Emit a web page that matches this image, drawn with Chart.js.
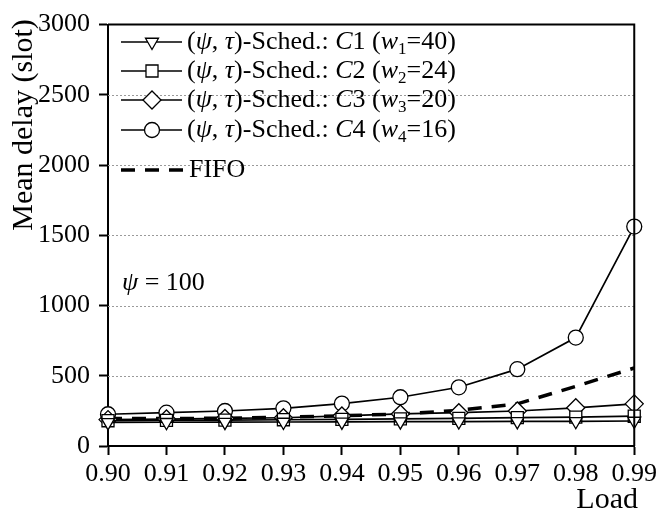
<!DOCTYPE html>
<html>
<head>
<meta charset="utf-8">
<script src="https://cdn.jsdelivr.net/npm/chart.js@4.4.1/dist/chart.umd.min.js"></script>
<style>
  html, body { margin: 0; padding: 0; background: #fff; }
</style>
</head>
<body>
<canvas id="chart" width="661" height="513"></canvas>
<script>
const loads = ["0.90", "0.91", "0.92", "0.93", "0.94", "0.95", "0.96", "0.97", "0.98", "0.99"];
const classNames = ["C1", "C2", "C3", "C4"];
const weights = [40, 24, 20, 16];
const delayC1 = [168, 169, 170, 171, 172, 173, 174, 175, 176, 178];
const delayC2 = [180, 182, 184, 187, 190, 193, 197, 202, 206, 212];
const delayC3 = [188, 192, 196, 201, 214, 228, 237, 249, 272, 300];
const delayC4 = [226, 237, 249, 268, 302, 347, 418, 547, 772, 1562];
const delayFifo = [195, 195, 198, 205, 215, 228, 254, 300, 425, 555];
const psiValue = 100;

const serif = "'Liberation Serif', 'Times New Roman', serif";
const markers = [
  { style: "triangle", rotation: 180, radius: 7.5 },
  { style: "rect", rotation: 0, radius: 8.5 },
  { style: "rectRot", rotation: 0, radius: 9 },
  { style: "circle", rotation: 0, radius: 7.5 },
];
const classData = [delayC1, delayC2, delayC3, delayC4];

const datasets = classData.map((d, i) => ({
  label: classNames[i],
  data: d,
  borderColor: "#000",
  borderWidth: 1.7,
  pointStyle: markers[i].style,
  pointRotation: markers[i].rotation,
  pointRadius: markers[i].radius,
  pointHoverRadius: markers[i].radius,
  pointBackgroundColor: "#fff",
  pointBorderColor: "#000",
  pointBorderWidth: 1.3,
  tension: 0,
}));
datasets.push({
  label: "FIFO",
  data: delayFifo,
  borderColor: "#000",
  borderWidth: 3.5,
  borderDash: [14, 10],
  pointRadius: 0,
  tension: 0,
});

// text with italic / subscript pieces
function drawRich(ctx, x, y, parts, size) {
  ctx.textBaseline = "middle";
  ctx.textAlign = "left";
  for (const p of parts) {
    const fs = p.sub ? Math.round(size * 0.65) : size;
    ctx.font = (p.it ? "italic " : "") + fs + "px " + serif;
    ctx.fillText(p.t, x, p.sub ? y + size * 0.3 : y);
    x += ctx.measureText(p.t).width;
  }
}

function legendParts(i) {
  const n = classNames[i];
  return [
    { t: "(" }, { t: "\u03c8", it: 1 }, { t: ", " }, { t: "\u03c4", it: 1 },
    { t: ")-Sched.: " }, { t: n.slice(0, 1), it: 1 }, { t: n.slice(1) + " (" },
    { t: "w", it: 1 }, { t: n.slice(1), sub: 1 }, { t: "=" + weights[i] + ")" },
  ];
}

const extras = {
  id: "extras",
  beforeDatasetsDraw(chart) {
    const { ctx, chartArea: a, scales } = chart;
    ctx.save();
    ctx.strokeStyle = "#9a9a9a";
    ctx.lineWidth = 1;
    ctx.setLineDash([2, 2]);
    scales.y.ticks.forEach((t) => {
      if (t.value <= 0 || t.value >= 3000) return;
      const y = Math.round(scales.y.getPixelForValue(t.value)) + 0.5;
      ctx.beginPath();
      ctx.moveTo(a.left, y);
      ctx.lineTo(a.right, y);
      ctx.stroke();
    });
    ctx.restore();
  },
  afterDraw(chart) {
    const { ctx, chartArea: a } = chart;
    ctx.save();
    // frame top / right
    ctx.strokeStyle = "#000";
    ctx.lineWidth = 2;
    ctx.beginPath();
    ctx.moveTo(a.left, a.top);
    ctx.lineTo(a.right, a.top);
    ctx.lineTo(a.right, a.bottom);
    ctx.stroke();

    ctx.fillStyle = "#000";
    // legend
    const rowY = [42, 71, 100, 130];
    const x0 = 121, x1 = 182, xm = 152, xt = 187;
    for (let i = 0; i < 4; i++) {
      ctx.strokeStyle = "#000";
      ctx.lineWidth = 1.7;
      ctx.setLineDash([]);
      ctx.beginPath();
      ctx.moveTo(x0, rowY[i]);
      ctx.lineTo(x1, rowY[i]);
      ctx.stroke();
      ctx.fillStyle = "#fff";
      ctx.lineWidth = 1.3;
      Chart.helpers.drawPoint(ctx, {
        pointStyle: markers[i].style,
        rotation: markers[i].rotation,
        radius: markers[i].radius,
        borderWidth: 1.3,
      }, xm, rowY[i]);
      ctx.fillStyle = "#000";
      drawRich(ctx, xt, rowY[i], legendParts(i), 26);
    }
    ctx.lineWidth = 3.5;
    ctx.setLineDash([14, 10]);
    ctx.beginPath();
    ctx.moveTo(x0, 170);
    ctx.lineTo(x1 + 2, 170);
    ctx.stroke();
    ctx.setLineDash([]);
    drawRich(ctx, 189, 170, [{ t: datasets[4].label }], 26);

    // psi annotation
    drawRich(ctx, 122, 283, [{ t: "\u03c8", it: 1 }, { t: " = " + psiValue }], 26);

    // axis titles
    ctx.font = "30px " + serif;
    ctx.textAlign = "right";
    ctx.textBaseline = "middle";
    ctx.fillText("Load", 638, 500);
    ctx.translate(24, 125);
    ctx.rotate(-Math.PI / 2);
    ctx.textAlign = "center";
    ctx.fillText("Mean delay (slot)", 0, 0);
    ctx.restore();
  },
};

new Chart(document.getElementById("chart"), {
  type: "line",
  data: { labels: loads, datasets: datasets },
  options: {
    responsive: false,
    animation: false,
    devicePixelRatio: 1,
    layout: { padding: { top: 15, right: 24, left: 0, bottom: 0 } },
    plugins: { legend: { display: false }, tooltip: { enabled: false } },
    scales: {
      x: {
        type: "category",
        offset: false,
        grid: {
          drawOnChartArea: false,
          drawTicks: true,
          tickLength: 9,
          tickWidth: 2,
          tickColor: "#000",
          color: "#000",
        },
        border: { display: true, color: "#000", width: 2 },
        ticks: {
          color: "#000",
          font: { family: serif, size: 26 },
          padding: 4,
          maxRotation: 0,
          autoSkip: false,
        },
        afterFit(s) { s.height = 67; },
      },
      y: {
        min: 0,
        max: 3000,
        grid: {
          drawOnChartArea: false,
          drawTicks: true,
          tickLength: 9,
          tickWidth: 2,
          tickColor: "#000",
          color: "#000",
        },
        border: { display: true, color: "#000", width: 2 },
        ticks: {
          stepSize: 500,
          color: "#000",
          font: { family: serif, size: 26 },
          padding: 9,
          callback: (v) => String(v),
        },
        afterFit(s) { s.width = 108; },
      },
    },
  },
  plugins: [extras],
});
</script>
</body>
</html>
